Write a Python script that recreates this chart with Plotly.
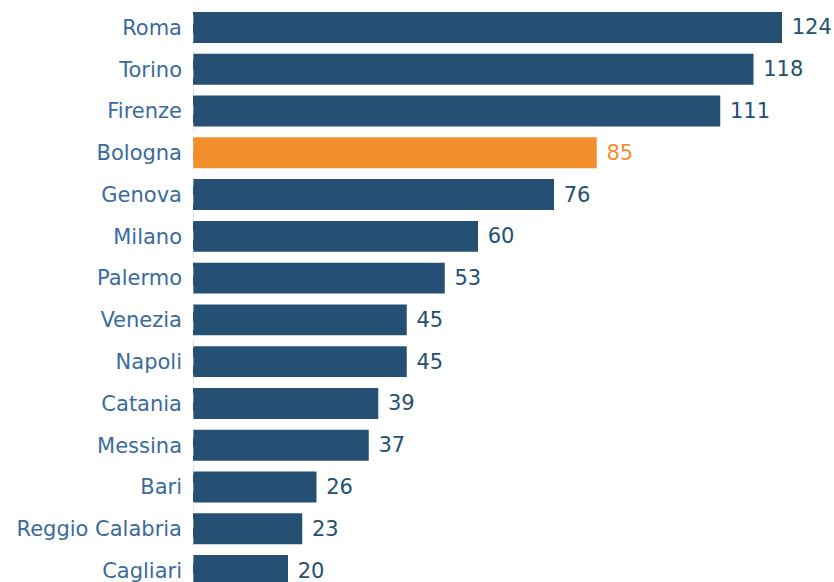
"""Horizontal bar chart of Italian cities, Bologna highlighted."""

import plotly.graph_objects as go

cities = [
    "Roma", "Torino", "Firenze", "Bologna", "Genova", "Milano", "Palermo",
    "Venezia", "Napoli", "Catania", "Messina", "Bari", "Reggio Calabria", "Cagliari",
]
values = [124, 118, 111, 85, 76, 60, 53, 45, 45, 39, 37, 26, 23, 20]
highlight = "Bologna"

BLUE = "#254F73"
ORANGE = "#F28E2B"
LABEL = "#3A6B9C"
FONT = "DejaVu Sans"

colors = [ORANGE if c == highlight else BLUE for c in cities]

fig = go.Figure()
fig.add_trace(
    go.Bar(
        x=values,
        y=cities,
        orientation="h",
        marker={"color": colors, "line": {"width": 0}},
        width=0.74,
        text=values,
        texttemplate=" %{text}",
        textposition="outside",
        textfont={"color": colors, "size": 21, "family": FONT},
        cliponaxis=False,
        hoverinfo="skip",
    )
)

# dashed zero line
fig.add_shape(
    type="line",
    xref="x", yref="paper",
    x0=0, x1=0, y0=0, y1=1 - 5 / 582,
    line={"color": "#C8C8C8", "width": 1, "dash": "dash"},
)

fig.update_layout(
    width=834,
    height=582,
    margin={"l": 193, "r": 0, "t": 0, "b": 0},
    plot_bgcolor="white",
    paper_bgcolor="white",
    showlegend=False,
    font={"family": FONT, "size": 21, "color": LABEL},
    xaxis={
        "range": [0, 641 / 4.75],
        "visible": False,
        "showgrid": False,
        "zeroline": False,
    },
    yaxis={
        "type": "category",
        "range": [13.275, -0.658],
        "showgrid": False,
        "zeroline": False,
        "showline": False,
        "ticks": "",
        "ticklabelstandoff": 10,
        "tickfont": {"color": LABEL, "size": 21, "family": FONT},
    },
)

# the chart is cropped at the window edge: no page margin, no scrolling
fig.write_html(
    "out.html",
    config={"displayModeBar": False},
    post_script="document.body.style.margin = '0'; document.body.style.overflow = 'hidden';",
)
